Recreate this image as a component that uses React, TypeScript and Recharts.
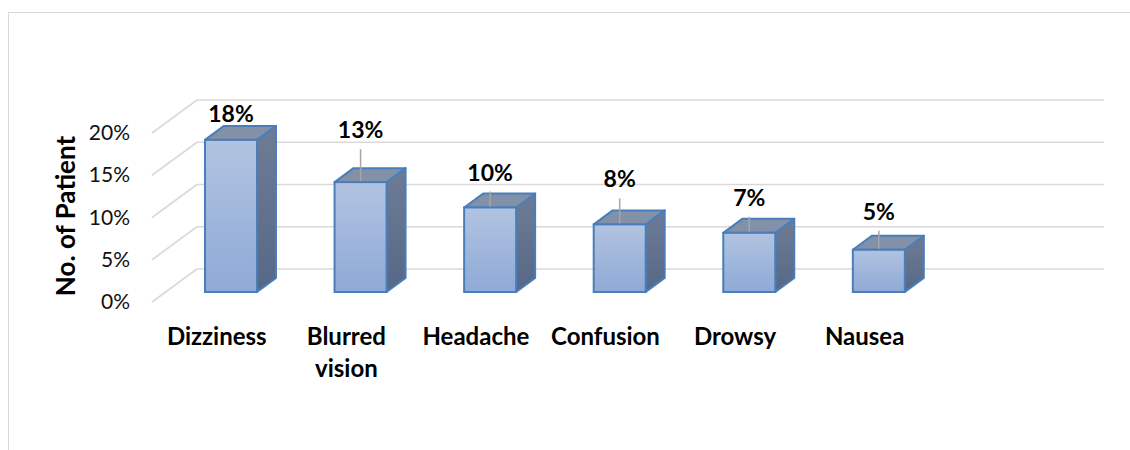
import React from "react";
import { BarChart, Bar, XAxis, YAxis, CartesianGrid, LabelList } from "recharts";

const categories = ["Dizziness", "Blurred vision", "Headache", "Confusion", "Drowsy", "Nausea"];
const patientShare = [18, 13, 10, 8, 7, 5];
const yTicks = [0, 5, 10, 15, 20];

// how far each data label was dragged above its bar (px)
const labelLift = [26, 52, 35, 45, 35, 38];

const data = categories.map((name, i) => ({ name, value: patientShare[i] }));

// oblique 3D: wall depth, bar position inside floor, bar depth
const WALL_X = 45;
const WALL_Y = -33;
const OFF_X = 14;
const OFF_Y = -10;
const DEP_X = 19;
const DEP_Y = -14;

const FONT = "Lato, 'Open Sans', sans-serif";
const GRID = "#d9d9d9";
const EDGE = "#4a7ebb";

function gridLine(props: any) {
  const { x1, x2, y1, index } = props;
  return (
    <g key={`g-${index}-${y1}`}>
      <line x1={x1} y1={y1} x2={x1 + WALL_X} y2={y1 + WALL_Y} stroke={GRID} strokeWidth={1.6} />
      <line x1={x1 + WALL_X} y1={y1 + WALL_Y} x2={x2 + WALL_X} y2={y1 + WALL_Y} stroke={GRID} strokeWidth={1.6} />
    </g>
  );
}

function Box(props: any) {
  const { x, y, width, height } = props;
  if (width == null || height == null) return null;
  const fx = x + OFF_X;
  const fy = y + OFF_Y;
  const bot = fy + height;
  const r = fx + width;
  return (
    <g>
      <polygon
        points={`${r},${fy} ${r + DEP_X},${fy + DEP_Y} ${r + DEP_X},${bot + DEP_Y} ${r},${bot}`}
        fill="url(#sideGrad)"
        stroke={EDGE}
        strokeWidth={2}
        strokeLinejoin="round"
      />
      <polygon
        points={`${fx},${fy} ${fx + DEP_X},${fy + DEP_Y} ${r + DEP_X},${fy + DEP_Y} ${r},${fy}`}
        fill="#8290a8"
        stroke={EDGE}
        strokeWidth={2}
        strokeLinejoin="round"
      />
      <rect x={fx} y={fy} width={width} height={height} fill="url(#frontGrad)" stroke={EDGE} strokeWidth={2} />
    </g>
  );
}

function ValueLabel(props: any) {
  const { x, y, width, value, index } = props;
  const cx = x + width / 2 + OFF_X;
  const top = y + OFF_Y;
  const lift = labelLift[index ?? 0] ?? 30;
  const cy = top - lift;
  const lineStart = cy + 19;
  const lineEnd = top - 1;
  return (
    <g>
      {lineEnd - lineStart > 9 && (
        <line x1={cx} y1={lineStart} x2={cx} y2={lineEnd} stroke="#a6a6a6" strokeWidth={1.5} />
      )}
      <text x={cx} y={cy + 8} textAnchor="middle" fontFamily={FONT} fontWeight={700} fontSize={23} fill="#000">
        {`${value}%`}
      </text>
    </g>
  );
}

function CategoryTick(props: any) {
  const { x, y, payload } = props;
  const words = String(payload.value).split(" ");
  return (
    <g>
      {words.map((w, i) => (
        <text
          key={i}
          x={x}
          y={y + 43 + i * 32}
          textAnchor="middle"
          fontFamily={FONT}
          fontWeight={700}
          fontSize={24}
          fill="#000"
        >
          {w}
        </text>
      ))}
    </g>
  );
}

function PercentTick(props: any) {
  const { x, y, payload } = props;
  return (
    <text x={x} y={y + 7} textAnchor="end" fontFamily={FONT} fontSize={21} fill="#111">
      {`${payload.value}%`}
    </text>
  );
}

export default function App() {
  return (
    <div style={{ position: "absolute", left: 0, top: 0, width: 1130, height: 450, overflow: "hidden", background: "#fff" }}>
      <div
        style={{
          position: "absolute",
          left: 8,
          top: 12,
          width: 1300,
          height: 600,
          border: `1px solid ${GRID}`,
        }}
      />
      <svg width={1130} height={450} style={{ position: "absolute", left: 0, top: 0 }}>
        <text
          x={75}
          y={216}
          transform="rotate(-90 75 216)"
          textAnchor="middle"
          fontFamily={FONT}
          fontWeight={700}
          fontSize={26}
          fill="#000"
        >
          No. of Patient
        </text>
      </svg>
      <div style={{ position: "absolute", left: 0, top: 0 }}>
        <BarChart
          width={1130}
          height={450}
          data={data}
          margin={{ top: 133, right: 71, bottom: 88, left: 92 }}
          barCategoryGap={0}
        >
          <defs>
            <linearGradient id="frontGrad" x1="0" y1="0" x2="0" y2="1">
              <stop offset="0%" stopColor="#b2c3e1" />
              <stop offset="100%" stopColor="#8eaad6" />
            </linearGradient>
            <linearGradient id="sideGrad" x1="0" y1="0" x2="0" y2="1">
              <stop offset="0%" stopColor="#6e7c95" />
              <stop offset="100%" stopColor="#566887" />
            </linearGradient>
          </defs>
          <CartesianGrid vertical={false} horizontal={gridLine} />
          <XAxis
            dataKey="name"
            height={60}
            axisLine={false}
            tickLine={false}
            tickSize={0}
            tickMargin={0}
            interval={0}
            padding={{ left: 0, right: 129.6 }}
            tick={<CategoryTick />}
          />
          <YAxis
            width={60}
            domain={[0, 20]}
            ticks={yTicks}
            axisLine={false}
            tickLine={false}
            tickSize={0}
            tickMargin={22}
            tick={<PercentTick />}
          />
          <Bar dataKey="value" barSize={52} shape={<Box />} isAnimationActive={false}>
            <LabelList dataKey="value" content={<ValueLabel />} />
          </Bar>
        </BarChart>
      </div>
    </div>
  );
}
